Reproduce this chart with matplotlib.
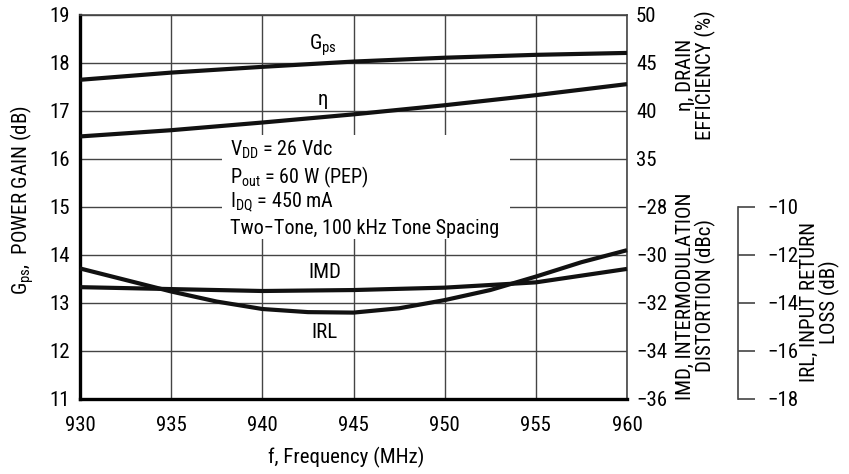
import matplotlib
matplotlib.use("Agg")
import matplotlib.pyplot as plt
from matplotlib.patches import Rectangle

plt.rcParams['font.family'] = ['Roboto Condensed', 'Liberation Sans Narrow', 'Roboto', 'DejaVu Sans']
plt.rcParams['font.stretch'] = 'condensed'
plt.rcParams['mathtext.default'] = 'regular'

# ---- data ----
freq = [930, 935, 940, 945, 950, 955, 960]
gps_db = [17.65, 17.80, 17.92, 18.03, 18.11, 18.17, 18.21]
eta_pct = [37.35, 38.0, 38.8, 39.65, 40.6, 41.65, 42.8]
imd_dbc = [-31.34, -31.42, -31.50, -31.46, -31.36, -31.14, -30.58]
irl_freq = [930, 935, 937.5, 940, 942.5, 945, 947.5, 950, 952.5, 955, 957.5, 960]
irl_db = [-12.56, -13.52, -13.94, -14.25, -14.38, -14.40, -14.22, -13.88, -13.46, -12.90, -12.30, -11.80]

x_ticks = [930, 935, 940, 945, 950, 955, 960]
gps_ticks = [11, 12, 13, 14, 15, 16, 17, 18, 19]
eta_ticks = [35, 40, 45, 50]
imd_ticks = [-36, -34, -32, -30, -28]
irl_ticks = [-18, -16, -14, -12, -10]

W, H = 849, 474
fig = plt.figure(figsize=(W / 100, H / 100), dpi=100)
L, R, T, B = 80, 627, 15, 399
ax = fig.add_axes([L / W, 1 - B / H, (R - L) / W, (B - T) / H])

FS = 15
grid_c = '#444444'
ax.set_xlim(930, 960)
ax.set_ylim(11, 19)
ax.set_xticks(x_ticks)
ax.set_yticks(gps_ticks)
ax.tick_params(axis='both', length=0, labelsize=FS)
ax.tick_params(axis='y', pad=7)
ax.tick_params(axis='x', pad=12)
ax.grid(True, color=grid_c, lw=1.0)
ax.set_axisbelow(True)
for s in ['left', 'bottom']:
    ax.spines[s].set_linewidth(2.4)
    ax.spines[s].set_color('black')
for s in ['top', 'right']:
    ax.spines[s].set_linewidth(1.2)
    ax.spines[s].set_color(grid_c)

lw = 3.0
ax.plot(freq, gps_db, color='#111111', lw=lw, solid_capstyle='butt', zorder=5, clip_on=False)

# white box behind conditions text
ax.add_patch(Rectangle(((222 - L) / (R - L), (B - 239) / (B - T)),
                       (510 - 222) / (R - L), (239 - 135) / (B - T),
                       transform=ax.transAxes, facecolor='white', edgecolor='none', zorder=3))

# efficiency axis (right)
ax_eta = ax.twinx()
ax_eta.set_ylim(10, 50)
ax_eta.set_yticks(eta_ticks)
ax_eta.plot(freq, eta_pct, color='#111111', lw=lw, solid_capstyle='butt', clip_on=False)

# IMD axis (right, same spine)
ax_imd = ax.twinx()
ax_imd.set_ylim(-36, -20)
ax_imd.set_yticks(imd_ticks)
ax_imd.plot(freq, imd_dbc, color='#111111', lw=lw, solid_capstyle='butt', clip_on=False)

for a in (ax_eta, ax_imd):
    for s in a.spines.values():
        s.set_visible(False)
    a.tick_params(axis='y', length=0, labelsize=FS, pad=6.5)

# IRL axis (offset right)
ax_irl = ax.twinx()
ax_irl.set_ylim(-18, -2)
ax_irl.set_yticks(irl_ticks)
ax_irl.plot(irl_freq, irl_db, color='#111111', lw=lw, solid_capstyle='butt', clip_on=False)
for s in ax_irl.spines.values():
    s.set_visible(False)
sp = ax_irl.spines['right']
sp.set_visible(True)
sp.set_position(('axes', (738 - L) / (R - L)))
sp.set_bounds(-18, -10)
sp.set_linewidth(1.2)
sp.set_color(grid_c)
ax_irl.tick_params(axis='y', direction='out', length=12, width=1.2, color=grid_c, labelsize=FS, pad=9)

# curve labels
ax.text(943.3, 18.375, r'$G_{ps}$', fontsize=FS, ha='center', va='center', zorder=6)
ax.text(943.3, 17.23, 'η', fontsize=FS, ha='center', va='center', zorder=6)
ax.text(943.4, 13.625, 'IMD', fontsize=FS, ha='center', va='center', zorder=6)
ax.text(943.4, 12.375, 'IRL', fontsize=FS, ha='center', va='center', zorder=6)

# conditions
cond = [r'$V_{DD}$ = 26 Vdc', r'$P_{out}$ = 60 W (PEP)', r'$I_{DQ}$ = 450 mA',
        'Two−Tone, 100 kHz Tone Spacing']
for i, (txt, yp) in enumerate(zip(cond, [150, 177, 202, 228])):
    ax.text((230 - L) / (R - L), (B - yp) / (B - T), txt, transform=ax.transAxes,
            fontsize=14.5, ha='left', va='center', zorder=6)

# axis labels
fig.text(22 / W, 1 - 200 / H, r'$G_{ps}$,  POWER GAIN (dB)', rotation=90,
         fontsize=FS, ha='center', va='center')
fig.text(346 / W, 1 - 457 / H, 'f, Frequency (MHz)', fontsize=FS, ha='center', va='center')
fig.text(696 / W, 1 - 75 / H, 'η, DRAIN\nEFFICIENCY (%)', rotation=90, fontsize=FS,
         ha='center', va='center', multialignment='center', linespacing=0.95)
fig.text(696 / W, 1 - 296 / H, 'IMD, INTERMODULATION\nDISTORTION (dBc)', rotation=90,
         fontsize=FS, ha='center', va='center', multialignment='center', linespacing=0.95)
fig.text(820 / W, 1 - 302 / H, 'IRL, INPUT RETURN\nLOSS (dB)', rotation=90,
         fontsize=FS, ha='center', va='center', multialignment='center', linespacing=0.95)

fig.savefig('out.png', dpi=100)
